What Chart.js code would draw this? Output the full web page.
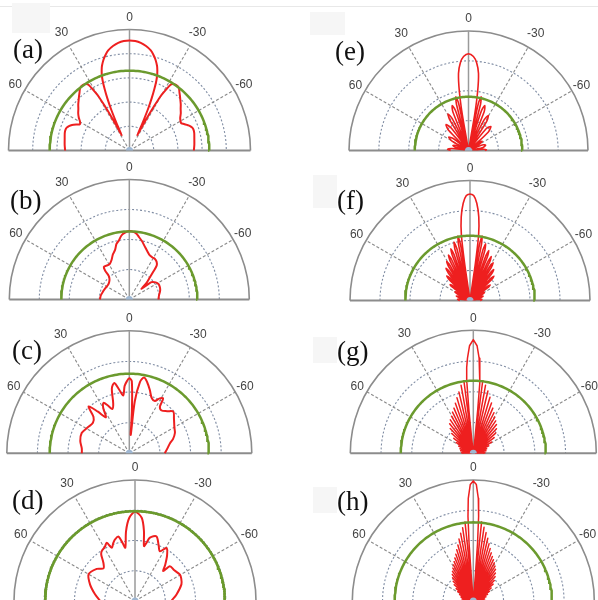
<!DOCTYPE html>
<html>
<head>
<meta charset="utf-8">
<script src="https://cdn.jsdelivr.net/npm/chart.js@4.4.1/dist/chart.umd.min.js"></script>
<style>
  html, body { margin: 0; padding: 0; background: #fff; }
  body { width: 598px; height: 600px; position: relative; overflow: hidden; }
  canvas { position: absolute; }
  .tag { position: absolute; font: 27px "Liberation Serif", "DejaVu Serif", serif; color: #111;
         transform: translateY(-50%); white-space: nowrap; }
  .shade { position: absolute; background: #f6f6f6; }
  .topline { position: absolute; left: 0; top: 6px; width: 598px; height: 1px; background: #e8e8e8; }
</style>
</head>
<body>
<div class="topline"></div>
<script>
// Radiation patterns, angle in degrees (positive = left of broadside), gain in grid units above the floor.

// (a)
const aAngles = [90, 85, 80, 75, 72, 70, 68, 66, 64, 62.5, 61, 59, 57, 54, 51, 48, 45, 43, 41, 39,
                 37, 35, 33, 32, 31, 30, 29.5, 29, 28.5, 28, 27.5, 27, 26, 25, 24, 23, 22, 21, 20, 19,
                 18, 16, 14, 12, 9, 6, 3, 0,
                 -3, -6, -9, -12, -14, -16, -18, -19, -20, -21, -22, -23, -24, -25, -26, -27, -27.5, -28, -28.5, -29,
                 -29.5, -30, -31, -32, -33, -35, -37, -39, -41, -43, -45, -48, -51, -54, -57, -59, -61, -62.5, -64, -66,
                 -68, -70, -72, -75, -80, -85, -90];
const aGain   = [26.6, 26.9, 27.2, 27.7, 27.8, 27.6, 27, 26, 24.5, 23.3, 23.3, 24, 25, 26.2, 27.2, 28.5, 29.7, 30.6, 31.5, 32.6,
                 33.2, 33.2, 32.8, 32, 29.5, 26.5, 24, 21, 17, 13.5, 10, 7, 10, 14, 19, 23.5, 27.5, 31, 33.5, 35.3,
                 36.8, 39, 40.8, 42.3, 43.7, 44.7, 45.3, 45.5,
                 45.3, 44.7, 43.7, 42.3, 40.8, 39, 36.8, 35.3, 33.5, 31, 27.5, 23.5, 19, 14, 10, 7, 10, 13.5, 17, 21,
                 24, 26.5, 29.5, 32, 32.8, 33.2, 33.2, 32.6, 31.5, 30.6, 29.7, 28.5, 27.2, 26.2, 25, 24.5, 24.2, 24.2, 25, 26,
                 27, 27.6, 27.8, 27.7, 27.2, 26.9, 26.6];

// (b)
const bAngles = [90, 82, 74, 64, 56, 50, 44, 41, 40, 38, 34, 29, 24, 20, 16, 13, 10, 7, 4, 0,
                 -4, -6.5, -9, -12, -16, -20, -25, -29, -32, -36, -39, -41, -43, -46, -49, -52, -57, -62, -68, -74, -82, -90];
const bGain   = [9.8, 9.6, 9.2, 8.8, 8.6, 8.8, 9.5, 10.5, 12.5, 13.8, 13.6, 13.5, 14.5, 16, 17.2, 19, 20, 21.5, 22.3, 22.8,
                 22.5, 22, 21, 20, 18.5, 17.3, 16.2, 16, 16, 15.5, 14.5, 12, 10, 8, 5.4, 9.4, 10.5, 11, 11, 10.7, 10, 9.7];

// (c)
const cAngles = [90, 84, 76, 67, 58, 50, 44.5, 41, 37, 33, 30, 27, 24, 21, 18, 15, 12, 9, 6, 4,
                 2, 0, -2, -3.5, -4.5, -6, -8.5, -11, -14, -18, -22, -26, -29, -31.7, -33.3, -37, -42, -46.6, -52, -60,
                 -66, -72, -76, -83, -90];
const cGain   = [15.5, 15.6, 16.5, 16.9, 16, 15.5, 16.7, 20.3, 17, 14, 17, 18.5, 17, 15.5, 17, 22, 23.5, 21, 19, 22,
                 23.5, 24.5, 23.5, 14, 6, 17, 23.5, 25.2, 24, 21.7, 19.5, 19, 20.5, 21, 18.2, 17.5, 18.5, 19.8, 18.5, 17,
                 16.3, 15, 13.7, 12.5, 11.6];

// (d)
const dAngles = [90, 80.5, 70, 60, 50, 44, 39.6, 36, 33.7, 29, 25.9, 23.6, 20.5, 18, 14.4, 12, 10.3, 7.3, 4, 0,
                 -4.6, -7.3, -9.3, -11, -13.3, -18.4, -23, -26.6, -30.7, -35, -40, -43.4, -45, -52, -59.3, -64, -70.3, -81, -90];
const dGain   = [11.5, 13.4, 15.8, 17.7, 16.5, 15, 16.4, 19, 19.8, 20.5, 21.4, 19.2, 20.5, 21.4, 22, 19.5, 17.9, 23.3, 27.5, 29.5,
                 27.6, 23.3, 18.4, 19.5, 21.5, 22.5, 20, 18.4, 20.4, 18.5, 15.5, 13.6, 16.3, 16.5, 17.2, 17, 16.3, 13.9, 12];

// (e)
const eAngles = [90, 86.5, 83, 80,  76, 72, 68, 64,  60, 56, 52, 48,  44.5, 41, 37.5, 34.5,  31.5, 29.3, 27, 24.5,
                 22, 20, 18, 16.2,  14.6, 13.2, 11.8, 10.6,  9.8, 8.8, 7.4, 5.3, 3, 0, -3, -5.3, -7.4, -8.8, -9.8,
                 -10.6, -11.8, -13.2, -14.6,  -16.2, -18, -20, -22,  -24.5, -27, -29.5, -32,  -35, -39, -43, -47,
                 -50.5, -53.5, -56, -59,  -63, -68, -73, -78,  -82, -85, -88, -90];
const eGain   = [6, 7, 5.5, 1.5,  4.5, 5.5, 4.5, 1.2,  6.5, 8, 6.5, 1.2,  9.5, 11.5, 9.5, 1.2,  12, 14, 12, 1.2,
                 14, 16, 14, 1.2,  16, 18.5, 16, 1.2,  12, 20, 26, 29.5, 31.5, 32.4, 31.5, 29.5, 26, 20, 12,
                 1.2, 16, 18.5, 16,  1.2, 14, 16, 14,  1.2, 11.5, 13.5, 11.5,  1.2, 9.5, 11, 9,
                 1.2, 4.5, 5.5, 4.5,  1.2, 5, 6, 5,  1.5, 5, 6, 5.5];

// (f)
const fAngles = [90, 88, 85, 82.5, 78,  74, 72, 70, 65.5,  62, 60, 58, 55.5,  52.6, 51, 49.4, 47.2,
                 45, 43.4, 41.8, 40,  38.2, 36.8, 35.4, 33.8,  32.2, 30.9, 29.6, 28.2,  26.6, 25.4, 24.2, 22.8,
                 21.4, 20.3, 19.2, 17.8,  16.4, 15.3, 14.2, 12.8,  11.6, 10.6, 9.6, 8.8,
                 8.3, 7.5, 6, 4, 2, 0, -2, -4, -6, -7.5, -8.3,
                 -8.8, -9.6, -10.6, -11.6,  -12.8, -14.3, -15.4, -16.5,  -18, -19.5, -20.6, -21.7,
                 -23.2, -24.7, -25.9, -27.1,  -28.8, -30.2, -31.5, -32.8,  -34.6, -36.2, -37.6, -39,
                 -41, -43, -44.5, -46,  -48.5, -50.8, -52.5, -54.2,  -57, -59, -61, -63,
                 -66.5, -70, -72, -74,  -78, -82.5, -85, -88, -90];
const fGain   = [3.4, 3.8, 4.2, 3.7, 1,  4.2, 4.8, 4.2, 1,  5, 5.8, 5, 1,  7.5, 8.5, 7.5, 1,
                 10, 11.3, 10, 1,  11.8, 13.4, 11.8, 1,  13.4, 15.2, 13.4, 1,  14.8, 16.8, 14.8, 1,
                 16.2, 18.4, 16.2, 1,  17.8, 20.2, 17.8, 1,  19, 21.9, 19, 1,
                 12, 22, 28, 32.5, 35, 35.5, 35, 32.5, 28, 22, 12,
                 1, 19, 21.9, 19,  1, 17.3, 19.6, 17.3,  1, 15.7, 17.8, 15.7,
                 1, 14.3, 16.3, 14.3,  1, 13, 14.8, 13,  1, 11.4, 13, 11.4,
                 1, 10, 11.4, 10,  1, 7.5, 8.5, 7.5,  1, 4.8, 5.5, 4.8,
                 1, 4, 4.6, 4,  1, 3.6, 4, 3.7, 3.4];

// (g)
const gAngles = [90, 87, 83, 79, 75, 71, 67.5, 64, 61, 58, 55.2, 52.5, 50, 47.5, 45.2, 43, 40.8, 38.7, 36.6, 34.5,
                 32.5, 30.5, 28.6, 26.8, 25, 23.2, 21.4, 19.7, 18, 16.4, 14.8, 13.2, 11.7, 10.2, 8.8, 7.4, 6.5,
                 6.2, 5.8, 5.2, 4.4, 3.5, 2, 0, -2, -3.5, -4.4, -5.2, -5.8, -6.2,
                 -6.5, -7.4, -8.8, -10.2, -11.7, -13.2, -14.9, -16.6, -18.2, -19.9, -21.6, -23.4, -25.2, -27, -28.8,
                 -30.7, -32.7, -34.7, -36.8, -38.9, -41.1, -43.3, -45.6, -47.9, -50.4, -52.9, -55.6, -58.4, -61.2, -64.2,
                 -67.6, -71, -75, -79, -83, -87, -90];
const gGain   = [3.2, 3.8, 0.8, 4.2, 0.8, 4.6, 0.8, 5.3, 0.8, 6.5, 0.8, 8, 0.8, 9.5, 0.8, 11, 0.8, 12.3, 0.8, 13.2,
                 0.8, 14, 0.8, 15, 0.8, 16, 0.8, 17.3, 0.8, 18.8, 0.8, 20.5, 0.8, 22.5, 0.8, 23.8, 0.8,
                 5, 14, 23, 28, 31, 35, 37, 35, 31, 28, 23, 14, 5,
                 0.8, 23.8, 0.8, 22.5, 0.8, 20.8, 0.8, 19, 0.8, 17.4, 0.8, 16, 0.8, 14.8, 0.8,
                 13.7, 0.8, 12.8, 0.8, 12, 0.8, 11, 0.8, 9.8, 0.8, 8.5, 0.8, 7, 0.8, 5.6,
                 0.8, 4.6, 0.8, 4.2, 0.8, 3.8, 3.2];

// (h)
const hAngles = [90, 87, 83.5, 80, 76, 72, 68.5, 65, 62, 59, 56.5, 54, 51.8, 49.6, 47.6, 45.6, 43.7, 41.8, 40, 38.3,
                 36.6, 35, 33.4, 31.9, 30.4, 28.9, 27.4, 26, 24.6, 23.2, 21.8, 20.5, 19.2, 17.9, 16.6, 15.4, 14.2,
                 13, 11.8, 10.6, 9.4, 8.3, 7.2, 6, 4.9,
                 4.6, 4.2, 3.6, 2.8, 1.5, 0, -1.5, -2.8, -3.6, -4.2, -4.6,
                 -4.9, -6, -7.2, -8.3, -9.4, -10.6, -11.8, -13, -14.2, -15.4, -16.6, -17.9, -19.2, -20.5, -21.8,
                 -23.2, -24.6, -26, -27.4, -28.9, -30.4, -31.9, -33.4, -35, -36.6, -38.3, -40, -41.8, -43.7,
                 -45.6, -47.6, -49.6, -51.8, -54, -56.5, -59, -62, -65, -68.5, -72, -76, -80, -83.5, -87, -90];
const hGain   = [3.2, 3.5, 0.8, 3.8, 0.8, 4.3, 0.8, 5, 0.8, 6, 0.8, 7, 0.8, 8.3, 0.8, 9.3, 0.8, 10.3, 0.8, 11.2,
                 0.8, 12, 0.8, 12.8, 0.8, 13.6, 0.8, 14.5, 0.8, 15.5, 0.8, 16.5, 0.8, 17.8, 0.8, 19.2, 0.8,
                 21, 0.8, 22.8, 0.8, 24.5, 0.8, 26.3, 0.8,
                 8, 19, 28, 34, 38.5, 39.7, 38.5, 34, 28, 19, 8,
                 0.8, 26.3, 0.8, 24.6, 0.8, 23, 0.8, 21.3, 0.8, 19.6, 0.8, 18.2, 0.8, 17, 0.8,
                 16, 0.8, 15.2, 0.8, 14.4, 0.8, 13.6, 0.8, 12.8, 0.8, 11.8, 0.8, 10.8, 0.8,
                 9.7, 0.8, 8.6, 0.8, 7.3, 0.8, 6.2, 0.8, 5.2, 0.8, 4.4, 0.8, 3.8, 0.8, 3.5, 3.2];

// Reference level circle of each panel
const refLevel = { a: 33, b: 22.7, c: 26, d: 29.7, e: 18, f: 21.6, g: 23.6, h: 26 };

// Angular tick labels shared by every panel
const tickAngles = [0, 30, -30, 60, -60];
const tickLabels = ['0', '30', '-30', '60', '-60'];

const RED = '#ee1f1f';
const GREEN = '#6b9a2e';

const panels = [
  { key: 'a', tag: '(a)', cx: 129.5, cy: 150.5, R: 121,   rMax: 50, ang: aAngles, gain: aGain, lw: 2,   ten: 0.2,  tx: 13,  ty: 49 },
  { key: 'b', tag: '(b)', cx: 129.3, cy: 299.5, R: 120,   rMax: 40, ang: bAngles, gain: bGain, lw: 2,   ten: 0.3,  tx: 10,  ty: 200 },
  { key: 'c', tag: '(c)', cx: 129.3, cy: 453.3, R: 122.5, rMax: 40, ang: cAngles, gain: cGain, lw: 2,   ten: 0.3,  tx: 12,  ty: 350 },
  { key: 'd', tag: '(d)', cx: 135,   cy: 601,   R: 121,   rMax: 40, ang: dAngles, gain: dGain, lw: 2,   ten: 0.3,  tx: 12,  ty: 500, marks: true },
  { key: 'e', tag: '(e)', cx: 468.5, cy: 150.5, R: 119.5, rMax: 40, ang: eAngles, gain: eGain, lw: 1.6, ten: 0.25, tx: 335, ty: 51 },
  { key: 'f', tag: '(f)', cx: 470,   cy: 300.5, R: 120,   rMax: 40, ang: fAngles, gain: fGain, lw: 1.6, ten: 0.2,  tx: 337, ty: 200 },
  { key: 'g', tag: '(g)', cx: 473.3, cy: 453.3, R: 123,   rMax: 40, ang: gAngles, gain: gGain, lw: 1.5, ten: 0,    tx: 337, ty: 351 },
  { key: 'h', tag: '(h)', cx: 473.3, cy: 601,   R: 121,   rMax: 40, ang: hAngles, gain: hGain, lw: 1.5, ten: 0,    tx: 337, ty: 501 }
];

// faint pasted-in backgrounds behind some of the panel tags
const shades = [[12, 3, 38, 30], [310, 12, 35, 23], [313, 175, 24, 33], [313, 337, 24, 26], [313, 487, 24, 26]];
shades.forEach(([l, t, w, h]) => {
  const s = document.createElement('div');
  s.className = 'shade';
  Object.assign(s.style, { left: l + 'px', top: t + 'px', width: w + 'px', height: h + 'px' });
  document.body.appendChild(s);
});

const DEG = Math.PI / 180;
const toXY = (a, r) => ({ x: -r * Math.sin(a * DEG), y: r * Math.cos(a * DEG) });

// Half-plane polar grid: dotted range rings, dashed spokes, outer arc, baseline, angle labels
const polarGrid = {
  id: 'polarGrid',
  beforeDatasetsDraw(chart, args, opts) {
    const { ctx, scales: { x, y } } = chart;
    const cx = x.getPixelForValue(0), cy = y.getPixelForValue(0);
    const k = x.getPixelForValue(1) - cx;
    const R = opts.rMax * k;
    ctx.save();
    ctx.lineWidth = 1.1;
    ctx.strokeStyle = '#7f8ca3';
    ctx.setLineDash([2, 2]);
    for (let v = 10; v < opts.rMax - 0.01; v += 10) {
      ctx.beginPath();
      ctx.arc(cx, cy, v * k, Math.PI, 2 * Math.PI);
      ctx.stroke();
    }
    ctx.strokeStyle = '#8a8a8a';
    ctx.setLineDash([3, 2]);
    ctx.beginPath();
    [30, 60, -30, -60].forEach(a => {
      ctx.moveTo(cx, cy);
      ctx.lineTo(cx - R * Math.sin(a * DEG), cy - R * Math.cos(a * DEG));
    });
    ctx.stroke();
    ctx.setLineDash([]);
    ctx.strokeStyle = '#8c8c8c';
    ctx.lineWidth = 1.6;
    ctx.beginPath();
    ctx.arc(cx, cy, R, Math.PI, 2 * Math.PI);
    ctx.stroke();
    ctx.lineWidth = 1.5;
    ctx.strokeStyle = '#9a9a9a';
    ctx.beginPath();
    ctx.moveTo(cx, cy); ctx.lineTo(cx, cy - R);
    ctx.stroke();
    ctx.lineWidth = 2;
    ctx.strokeStyle = '#8c8c8c';
    ctx.beginPath();
    ctx.moveTo(cx - R, cy); ctx.lineTo(cx + R, cy);
    ctx.stroke();
    ctx.fillStyle = '#444';
    ctx.font = '12px "Liberation Sans", Arial, sans-serif';
    ctx.textAlign = 'center';
    ctx.textBaseline = 'middle';
    tickAngles.forEach((a, i) => {
      const off = a === 0 ? 12 : (Math.abs(a) === 30 ? 15 : 11);
      ctx.fillText(tickLabels[i], cx - (R + off) * Math.sin(a * DEG), cy - (R + off) * Math.cos(a * DEG));
    });
    ctx.restore();
  },
  afterDatasetsDraw(chart) {
    const { ctx, scales: { x, y } } = chart;
    const cx = x.getPixelForValue(0), cy = y.getPixelForValue(0);
    ctx.save();
    ctx.fillStyle = '#9fb7d2';
    ctx.beginPath();
    ctx.arc(cx, cy, 3.5, Math.PI, 2 * Math.PI);
    ctx.fill();
    ctx.restore();
  }
};

// sweep used to draw the constant reference circle
const ringAngles = [];
for (let a = -90; a <= 90; a += 1.5) ringAngles.push(a);

panels.forEach(p => {
  const k = p.R / p.rMax;
  const W = Math.round(2 * p.R + 70), H = Math.round(p.R + 34);
  const left = Math.round(p.cx - W / 2), top = Math.round(p.cy - p.R - 30);
  const cxL = p.cx - left, cyL = p.cy - top;

  const cv = document.createElement('canvas');
  cv.width = W; cv.height = H;
  Object.assign(cv.style, { left: left + 'px', top: top + 'px', width: W + 'px', height: H + 'px' });
  document.body.appendChild(cv);

  const tag = document.createElement('div');
  tag.className = 'tag';
  tag.textContent = p.tag;
  tag.style.left = p.tx + 'px';
  tag.style.top = p.ty + 'px';
  document.body.appendChild(tag);

  const level = refLevel[p.key];
  new Chart(cv, {
    type: 'scatter',
    data: {
      datasets: [
        {
          data: ringAngles.map(a => toXY(a, level)),
          showLine: true, borderColor: GREEN, borderWidth: 2.5,
          pointRadius: p.marks ? 1.3 : 0, pointBackgroundColor: GREEN, pointBorderWidth: 0
        },
        {
          data: p.ang.map((a, i) => toXY(a, p.gain[i])),
          showLine: true, borderColor: RED, borderWidth: p.lw, pointRadius: 0,
          tension: p.ten, borderJoinStyle: 'round'
        }
      ]
    },
    options: {
      responsive: false, animation: false, events: [],
      layout: { autoPadding: false, padding: 0 },
      plugins: { legend: { display: false }, tooltip: { enabled: false }, polarGrid: { rMax: p.rMax } },
      scales: {
        x: { type: 'linear', display: false, min: -cxL / k, max: (W - cxL) / k },
        y: { type: 'linear', display: false, min: -(H - cyL) / k, max: cyL / k }
      }
    },
    plugins: [polarGrid]
  });
});
</script>
</body>
</html>
